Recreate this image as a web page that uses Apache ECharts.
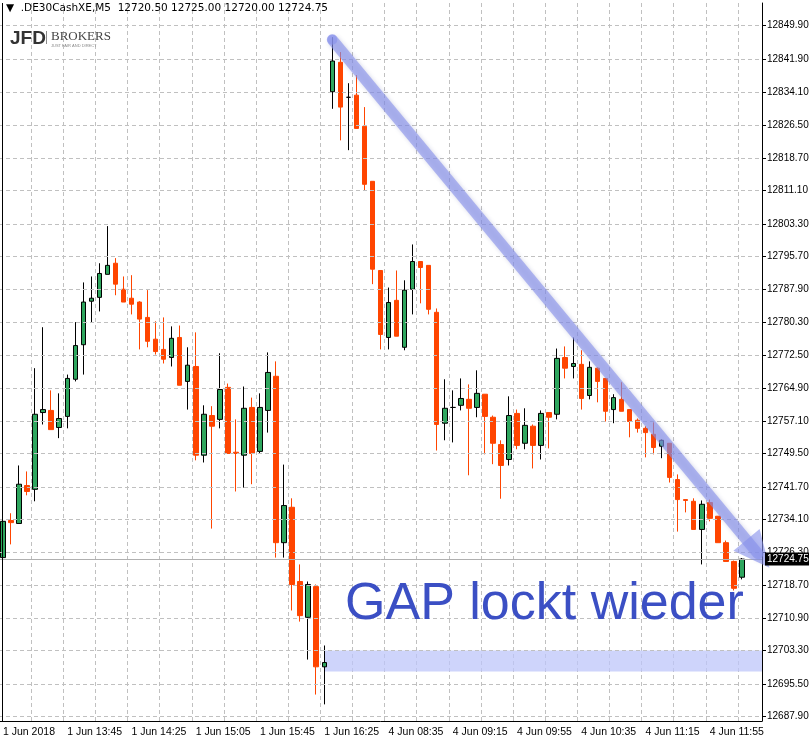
<!DOCTYPE html>
<html><head><meta charset="utf-8">
<script src="https://cdn.jsdelivr.net/npm/echarts@6/dist/echarts.min.js"></script>
<style>html,body{margin:0;padding:0;background:#fff}#c{width:809px;height:741px}</style>
</head><body><div id="c"></div>
<script>
// [open, close, low, high]
const day1Times = ['13:05','13:10','13:15','13:20','13:25','13:30','13:35','13:40','13:45','13:50','13:55','14:00','14:05','14:10','14:15','14:20','14:25','14:30','14:35','14:40','14:45','14:50','14:55','15:00','15:05','15:10','15:15','15:20','15:25','15:30','15:35','15:40','15:45','15:50','15:55','16:00','16:05','16:10','16:15','16:20','16:25'];
const day2Times = ['08:00','08:05','08:10','08:15','08:20','08:25','08:30','08:35','08:40','08:45','08:50','08:55','09:00','09:05','09:10','09:15','09:20','09:25','09:30','09:35','09:40','09:45','09:50','09:55','10:00','10:05','10:10','10:15','10:20','10:25','10:30','10:35','10:40','10:45','10:50','10:55','11:00','11:05','11:10','11:15','11:20','11:25','11:30','11:35','11:40','11:45','11:50','11:55','12:00','12:05','12:10','12:15'];
const categories = day1Times.map(t=>'1 Jun '+t).concat(day2Times.map(t=>'4 Jun '+t));
const ohlc = [
[12725.1,12733.6,12723.5,12737.6],[12733.8,12733.3,12728.2,12735.5],[12733.1,12742.3,12733.1,12746.7],[12742.0,12740.6,12739.7,12745.3],
[12741.1,12758.7,12738.3,12769.5],[12759.1,12759.8,12756.3,12779.1],[12759.6,12755.1,12755.1,12764.3],[12755.6,12757.7,12753.1,12763.6],
[12758.2,12767.1,12755.4,12768.0],[12766.9,12774.8,12766.4,12780.3],[12775.0,12785.0,12768.0,12789.6],[12785.2,12785.9,12780.3,12791.0],
[12786.1,12791.7,12782.8,12794.1],[12791.5,12793.6,12791.5,12802.8],[12794.1,12789.2,12786.6,12795.3],[12788.0,12785.0,12785.0,12791.0],
[12785.9,12784.5,12782.1,12791.3],[12785.0,12781.0,12773.9,12785.2],[12781.4,12775.8,12774.4,12787.8],[12776.3,12773.4,12772.7,12780.5],
[12773.9,12771.6,12770.6,12781.4],[12772.0,12776.5,12769.9,12779.3],[12776.7,12765.5,12765.5,12779.5],[12766.4,12770.2,12759.8,12774.4],
[12769.9,12749.1,12747.9,12777.9],[12749.1,12758.7,12747.4,12760.8],[12758.4,12755.9,12731.9,12760.6],[12757.5,12764.5,12755.4,12773.0],
[12765.0,12749.5,12749.5,12765.9],[12749.8,12749.5,12740.6,12757.5],[12749.1,12760.1,12741.5,12765.2],[12760.3,12749.5,12742.3,12762.6],
[12750.0,12760.3,12749.5,12763.6],[12759.6,12768.5,12754.4,12773.2],[12767.6,12728.6,12725.1,12771.1],[12728.6,12737.3,12725.1,12746.9],
[12736.9,12718.8,12712.7,12739.0],[12719.5,12711.5,12710.1,12723.5],[12711.1,12718.8,12701.2,12719.5],[12718.3,12699.5,12693.0,12718.8],
[12699.5,12700.5,12690.7,12704.5],
[12834.3,12841.5,12830.3,12847.1],[12841.2,12830.7,12822.9,12843.6],[12833.0,12833.0,12820.6,12836.3],[12833.5,12825.7,12825.7,12838.2],
[12826.2,12812.6,12811.2,12830.7],[12813.3,12792.7,12789.2,12813.3],[12792.4,12777.4,12773.9,12792.4],[12776.7,12784.9,12773.9,12788.4],
[12785.4,12777.0,12777.0,12792.4],[12774.4,12787.8,12773.7,12790.1],[12788.0,12794.5,12782.1,12798.5],[12794.5,12793.1,12784.7,12794.5],
[12793.6,12783.3,12782.1,12793.6],[12782.6,12756.3,12750.2,12783.5],[12756.6,12760.1,12752.6,12766.9],[12760.3,12760.3,12752.1,12764.3],
[12760.8,12762.4,12759.6,12767.1],[12762.2,12760.1,12744.4,12765.7],[12760.3,12763.6,12758.0,12769.0],[12763.4,12758.2,12749.3,12763.4],
[12758.0,12751.9,12747.0,12758.4],[12751.6,12746.7,12738.9,12752.6],[12748.1,12758.4,12746.7,12762.9],[12758.9,12751.4,12750.5,12759.8],
[12751.9,12756.1,12750.5,12760.1],[12755.9,12751.4,12746.0,12756.3],[12751.4,12758.9,12748.1,12759.6],[12759.1,12758.0,12750.7,12759.1],
[12758.7,12771.8,12757.5,12774.1],[12772.0,12769.5,12767.1,12774.6],[12769.9,12770.6,12767.1,12776.7],[12770.4,12762.4,12759.8,12773.7],
[12763.1,12769.7,12762.2,12771.1],[12769.5,12766.4,12761.5,12769.7],[12767.1,12759.4,12757.0,12767.1],[12759.8,12762.6,12756.6,12763.4],
[12762.2,12759.4,12759.4,12766.2],[12759.8,12757.0,12753.3,12759.8],[12757.3,12755.4,12754.4,12757.7],[12755.4,12754.4,12748.6,12755.9],
[12754.0,12750.9,12749.3,12756.8],[12751.2,12752.6,12748.4,12752.8],[12751.9,12743.9,12742.7,12751.9],[12743.4,12738.7,12731.2,12744.6],
[12738.7,12738.5,12735.7,12738.7],[12738.3,12731.7,12731.7,12739.0],[12731.7,12737.6,12723.5,12738.5],[12738.0,12734.3,12733.6,12738.7],
[12734.8,12728.6,12728.6,12734.8],[12728.6,12724.2,12724.2,12729.1],[12724.2,12717.9,12717.4,12724.4],[12720.5,12724.75,12720.0,12725.0]
];
const priceTicks = [12849.90,12841.90,12834.10,12826.50,12818.70,12811.10,12803.30,12795.70,12787.90,12780.30,12772.50,12764.90,12757.10,12749.50,12741.70,12734.10,12726.30,12718.70,12710.90,12703.30,12695.50,12687.90];
const lastPrice = 12724.75;
const gapZone = [12703.3, 12698.4];
const trendFrom = [41, 12846.5];
const trendTo = [94, 12726.0];
const headerText = '▼  .DE30CashXE,M5  12720.50 12725.00 12720.00 12724.75';
const noteText = 'GAP lockt wieder';

const cats = categories.concat(['','']);
const timeLabel = (v, i) => i === 0 ? '1 Jun 2018' : v;
const font = '"Liberation Sans", Arial, sans-serif';
const trendColor = 'rgba(135,146,235,0.62)';

const chart = echarts.init(document.getElementById('c'));
chart.setOption({
  animation:false,
  backgroundColor:'#fff',
  grid:{left:-1,right:47,top:3,bottom:20,containLabel:false,outerBoundsMode:'none'},
  xAxis:{type:'category',data:cats,boundaryGap:true,
    axisLine:{lineStyle:{color:'#000',width:1}},
    axisTick:{interval:7,alignWithLabel:true,length:4,lineStyle:{color:'#000'}},
    axisLabel:{interval:7,align:'left',margin:6,color:'#000',fontSize:10.5,fontFamily:font,
      formatter:timeLabel},
    splitLine:{show:true,interval:3,lineStyle:{color:'#c0c0c0',type:[4,3]}}},
  yAxis:{type:'value',position:'right',scale:true,min:12686.8,max:12855.1,
    axisLine:{show:true,lineStyle:{color:'#000'}},
    axisTick:{show:true,customValues:priceTicks,length:4,lineStyle:{color:'#000'}},
    axisLabel:{customValues:priceTicks,color:'#000',fontSize:10,fontFamily:font,margin:5,
      formatter:v=>v.toFixed(2)},
    splitLine:{show:false}},
  graphic:[
    {type:'line',shape:{x1:2.5,y1:3,x2:2.5,y2:721},style:{stroke:'#000',lineWidth:1},z:50},
    {type:'text',left:6,top:3,style:{text:headerText,font:'10.5px "DejaVu Sans", sans-serif',fill:'#000'},z:60},
    {type:'text',left:10,top:29,style:{text:'JFD',font:'bold 19px "Liberation Sans", Arial',fill:'#333'},z:60},
    {type:'text',left:45,top:30,style:{text:'|',font:'15px "Liberation Serif"',fill:'#666'},z:60},
    {type:'text',left:51,top:30,style:{text:'BROKERS',font:'13px "Liberation Serif", serif',fill:'#444'},z:60},
    {type:'text',left:51,top:44,style:{text:'JUST FAIR AND DIRECT',font:'4px "Liberation Sans"',fill:'#888'},z:60},
    {type:'text',left:345,top:579,style:{text:noteText,font:'52px "Liberation Sans", Arial',fill:'#3b4fc4',
      shadowColor:'rgba(0,0,0,0.35)',shadowBlur:4,shadowOffsetX:3,shadowOffsetY:3},z:60}
  ],
  series:[{
    type:'candlestick',data:ohlc,barWidth:5,
    itemStyle:{color:'#2ea65e',borderColor:'#000',color0:'#ff4500',borderColor0:'#ff4500',borderWidth:1},
    markArea:{silent:true,itemStyle:{color:'rgba(190,198,250,0.75)'},
      data:[[{coord:[40,gapZone[0]]},{coord:[94,gapZone[1]],x:762}]]},
    markLine:{silent:true,symbol:'none',animation:false,
      data:priceTicks.map(v=>({yAxis:v,lineStyle:{color:'#c0c0c0',type:[4,3],width:1},label:{show:false}}))
        .concat([{yAxis:lastPrice,lineStyle:{color:'#b0b0b0',type:'solid',width:1},
          label:{show:true,position:'end',distance:3,formatter:lastPrice.toFixed(2),backgroundColor:'#000',color:'#fff',
            fontSize:10,fontFamily:font,padding:[2,2,1,2]}}])
        .concat([[{coord:trendFrom,symbol:'circle',symbolSize:10},{coord:trendTo,symbol:'triangle',symbolSize:[34,36]}]].map(p=>{
          p[0].lineStyle={color:trendColor,width:11,type:'solid',cap:'round',shadowColor:'rgba(60,70,150,0.35)',shadowBlur:4,shadowOffsetX:2,shadowOffsetY:2};
          p[0].label={show:false};
          p[0].itemStyle={color:trendColor};
          p[1].itemStyle={color:trendColor};
          return p;}))
    }
  }]
});
</script></body></html>
